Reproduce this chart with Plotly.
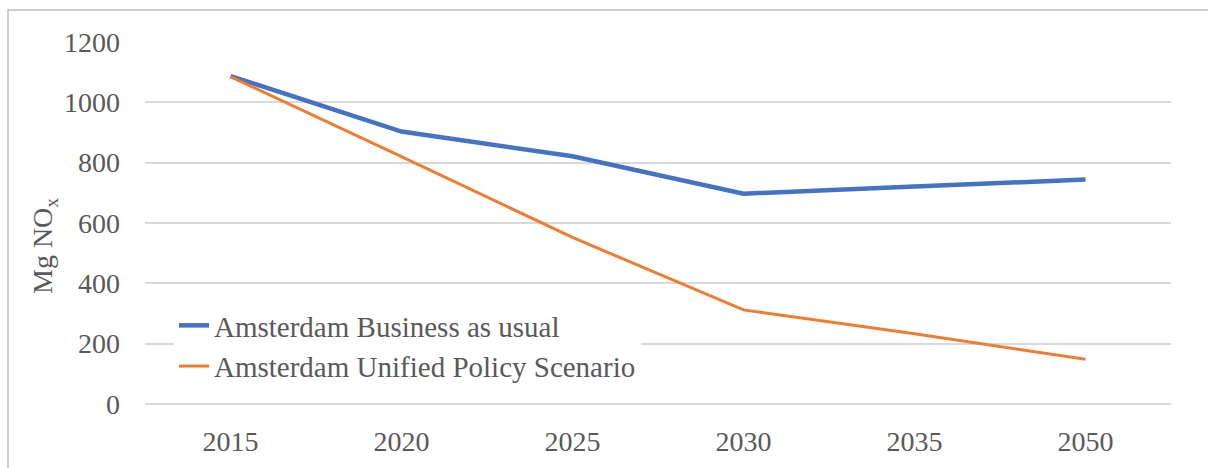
import plotly.graph_objects as go

# Projected NOx emissions for Amsterdam, two scenarios
years = ["2015", "2020", "2025", "2030", "2035", "2050"]
business_as_usual = [1087, 903, 821, 697, 721, 744]
unified_policy = [1085, 820, 552, 312, 233, 148]

series_names = ["Amsterdam Business as usual", "Amsterdam Unified Policy Scenario"]
y_ticks = [0, 200, 400, 600, 800, 1000, 1200]
y_title = "Mg NO<sub>x</sub>"

FONT = "Liberation Serif, Times New Roman, serif"
TEXT_GRAY = "#595959"
GRID_GRAY = "#D9D9D9"

fig = go.Figure()
fig.add_trace(go.Scatter(
    x=years, y=business_as_usual, mode="lines", name=series_names[0],
    line=dict(color="#4472C4", width=4.5),
))
fig.add_trace(go.Scatter(
    x=years, y=unified_policy, mode="lines", name=series_names[1],
    line=dict(color="#ED7D31", width=3),
))

# Plot-area geometry (pixels) used to place the border and axis title
L, R, T, B = 145, 37, 42, 64
W, H = 1208, 468
pw, ph = W - L - R, H - T - B

fig.update_layout(
    width=W, height=H,
    margin=dict(l=L, r=R, t=T, b=B),
    paper_bgcolor="white", plot_bgcolor="white",
    font=dict(family=FONT, size=28, color=TEXT_GRAY),
    showlegend=True,
    legend=dict(
        x=(174 - L) / pw, xanchor="left",
        y=(404 - 346) / ph, yanchor="middle",
        bgcolor="white", borderwidth=0,
        font=dict(family=FONT, size=29, color=TEXT_GRAY),
        itemwidth=30,
    ),
    xaxis=dict(
        type="category", range=[-0.5, len(years) - 0.5],
        showgrid=False, zeroline=False,
        showline=False, ticks="",
        ticklabelstandoff=18,
        tickfont=dict(family=FONT, size=28, color=TEXT_GRAY),
    ),
    yaxis=dict(
        range=[0, 1200], tickvals=y_ticks,
        showgrid=True, gridcolor=GRID_GRAY, gridwidth=1.5,
        zeroline=True, zerolinecolor=GRID_GRAY, zerolinewidth=1.5,
        showline=False, ticks="",
        ticklabelstandoff=24,
        tickfont=dict(family=FONT, size=28, color=TEXT_GRAY),
    ),
    annotations=[dict(
        text=y_title, textangle=-90, showarrow=False,
        xref="paper", yref="paper",
        x=(44 - L) / pw, y=(404 - 246) / ph,
        xanchor="center", yanchor="middle",
        font=dict(family=FONT, size=28, color=TEXT_GRAY),
    )],
    shapes=[dict(
        type="rect", xref="paper", yref="paper",
        x0=(8 - L) / pw, x1=(W + 20 - L) / pw,
        y0=(H - B - (H + 20)) / ph, y1=(H - B - 10) / ph,
        line=dict(color="#BFBFBF", width=1.5), fillcolor="rgba(0,0,0,0)",
        layer="below",
    )],
)

fig.write_html("out.html")
